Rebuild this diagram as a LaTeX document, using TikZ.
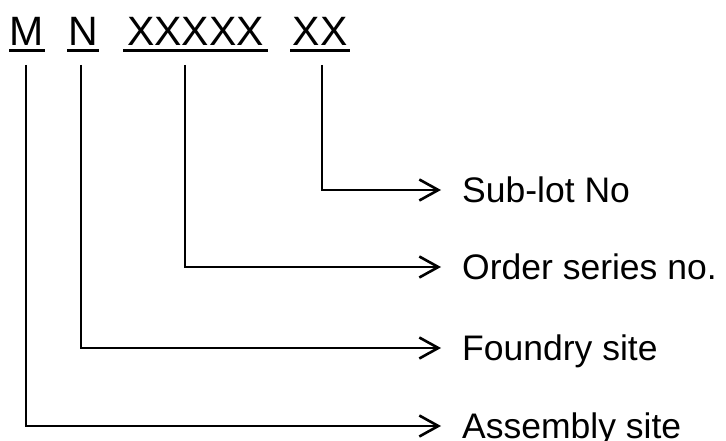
\documentclass[tikz,border=0pt]{standalone}
\usepackage{fontspec}
\setmainfont{Liberation Sans}
\usetikzlibrary{arrows.meta}
\begin{document}
\begin{tikzpicture}[x=1pt,y=-1pt,
  code/.style={font=\fontsize{41}{41}\selectfont, inner sep=0pt, anchor=base},
  lbl/.style={font=\fontsize{35.5}{35.5}\selectfont, inner sep=0pt, anchor=west, text height=25pt, text depth=0pt},
  ul/.style={line width=3pt},
  conn/.style={line width=2.6pt, -{Straight Barb[length=19pt,width=21pt,line width=2.6pt]}, shorten >=21pt}]
\useasboundingbox (0,0) rectangle (726,441);
\node[code] (M) at (27,46) {M};
\node[code] (N) at (83,46) {N};
\node[code] (X5) at (195.5,46) {XXXXX};
\node[code] (X2) at (320,46) {XX};
\draw[ul] (9,51) -- (45,51);
\draw[ul] (67,51) -- (99,51);
\draw[ul] (123,51) -- (268,51);
\draw[ul] (290,51) -- (350,51);
\node[lbl] (sub) at (462,190) {Sub-lot No};
\node[lbl] (ord) at (462,267) {Order series no.};
\node[lbl] (fnd) at (462,348) {Foundry site};
\node[lbl] (asm) at (462,426) {Assembly site};
\coordinate (tM) at (26,65);
\coordinate (tN) at (81,65);
\coordinate (tX5) at (185,65);
\coordinate (tX2) at (322,65);
\draw[conn] (tX2) |- (sub.west);
\draw[conn] (tX5) |- (ord.west);
\draw[conn] (tN) |- (fnd.west);
\draw[conn] (tM) |- (asm.west);
\end{tikzpicture}
\end{document}
